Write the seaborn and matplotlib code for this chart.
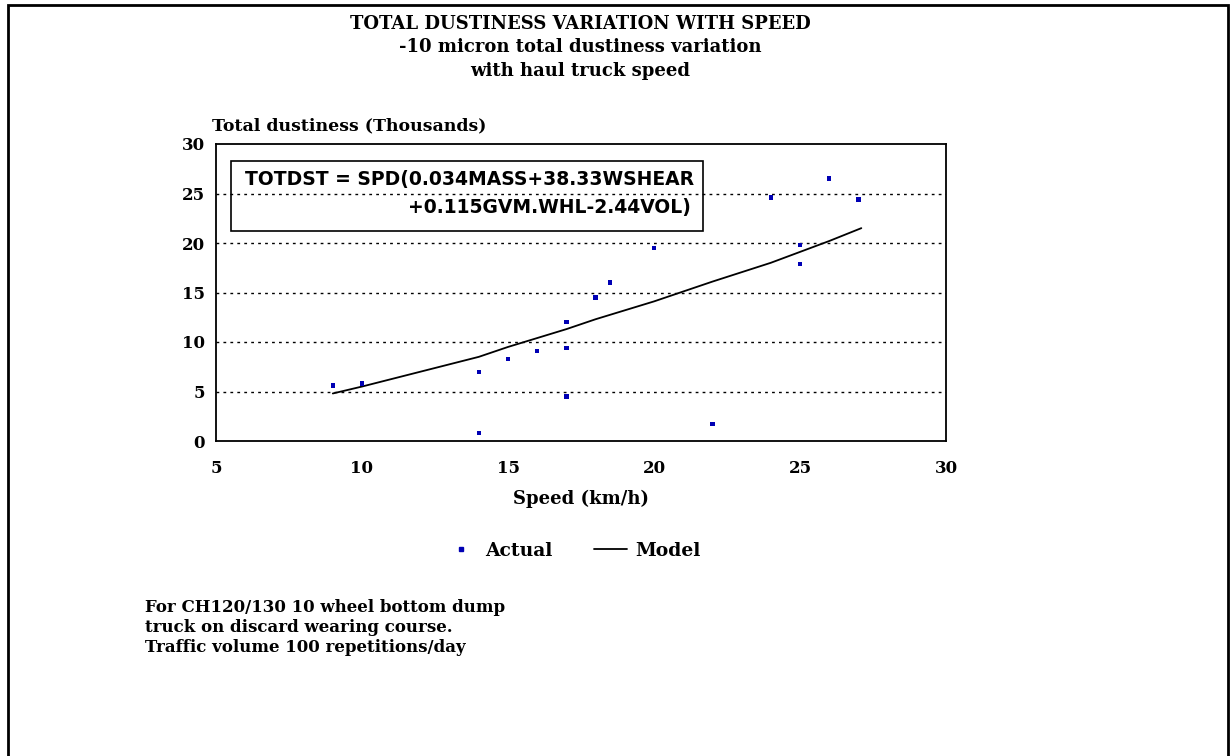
import numpy as np
import matplotlib.pyplot as plt
import matplotlib.patches as mpatches
import pandas as pd
import seaborn as sns

# measured points
speed = [9, 10, 14, 14, 15, 16, 17, 17, 17, 18, 18.5, 20, 22, 24, 25, 25, 26, 27]
dust = [5.6, 5.8, 7.0, 0.8, 8.3, 9.1, 12.0, 9.4, 4.5, 14.5, 16.0, 19.5, 1.7, 24.6, 19.8, 17.9, 26.5, 24.4]

# model curve
model_speed = [9, 10, 14, 15, 16, 17, 18, 20, 22, 24, 25, 26, 27.1]
model_dust = [4.8, 5.5, 8.5, 9.5, 10.4, 11.3, 12.3, 14.1, 16.1, 18.0, 19.1, 20.2, 21.5]

title_lines = ["TOTAL DUSTINESS VARIATION WITH SPEED",
               "-10 micron total dustiness variation",
               "with haul truck speed"]
note_lines = ["For CH120/130 10 wheel bottom dump",
              "truck on discard wearing course.",
              "Traffic volume 100 repetitions/day"]

sns.set_style("white")
plt.rcParams['font.family'] = ['DejaVu Serif']
plt.rcParams['text.color'] = 'black'
plt.rcParams['xtick.color'] = 'black'
plt.rcParams['ytick.color'] = 'black'
plt.rcParams['axes.labelcolor'] = 'black'

df_act = pd.DataFrame({'Speed': speed, 'Dust': dust})
df_mod = pd.DataFrame({'Speed': model_speed, 'Dust': model_dust})

fig = plt.figure(figsize=(12.32, 7.56), dpi=100)
ax = fig.add_axes([216/1232, 1-441/756, 730/1232, 297/756])

sns.scatterplot(data=df_act, x='Speed', y='Dust', ax=ax, marker='s', s=10,
                color='#0000b4', edgecolor='none', zorder=3)
sns.lineplot(data=df_mod, x='Speed', y='Dust', ax=ax, color='black', lw=1.3, zorder=2)

ax.set_xlim(5, 30)
ax.set_ylim(0, 30)
ax.set_xticks([5, 10, 15, 20, 25, 30])
ax.set_yticks([0, 5, 10, 15, 20, 25, 30])
for v in [5, 10, 15, 20, 25]:
    ax.axhline(v, color='black', lw=1, ls=(0, (2, 3)), zorder=1)
ax.tick_params(axis='x', direction='in', length=6, width=1.2, labelsize=12, pad=14)
ax.tick_params(axis='y', length=0, labelsize=12, pad=8)
for lab in ax.get_xticklabels() + ax.get_yticklabels():
    lab.set_fontweight('bold')
for sp in ax.spines.values():
    sp.set_linewidth(1.3)
    sp.set_color('black')
ax.set_xlabel('Speed (km/h)', fontsize=13, fontweight='bold', labelpad=9)
ax.set_ylabel('')
fig.text(212/1232, 1-126/756, 'Total dustiness (Thousands)', fontsize=12.5,
         fontweight='bold', ha='left', va='center')

# equation box
box = mpatches.Rectangle((231/1232, 1-231/756), 472/1232, 70/756, transform=fig.transFigure,
                         fill=False, edgecolor='black', lw=1.2)
fig.patches.append(box)
fig.text(245/1232, 1-180/756, 'TOTDST = SPD(0.034MASS+38.33WSHEAR', family='DejaVu Sans',
         fontsize=13.5, fontweight='bold', ha='left', va='center')
fig.text(691/1232, 1-207/756, '+0.115GVM.WHL-2.44VOL)', family='DejaVu Sans',
         fontsize=13.5, fontweight='bold', ha='right', va='center')

for i, t in enumerate(title_lines):
    fig.text(580/1232, 1-(24 + 23.5*i)/756, t, fontsize=13, fontweight='bold',
             ha='center', va='center')

# legend
handles = [plt.Line2D([], [], marker='s', ls='none', color='#0000b4', markersize=3.5),
           plt.Line2D([], [], color='black', lw=1.3)]
fig.legend(handles, ['Actual', 'Model'], loc='center', bbox_to_anchor=(572/1232, 1-551/756),
           ncol=2, frameon=False, prop={'size': 13.5, 'weight': 'bold'},
           handlelength=1.8, columnspacing=2.2, handletextpad=0.4)

for i, t in enumerate(note_lines):
    fig.text(145/1232, 1-(608 + 19.5*i)/756, t, fontsize=12, fontweight='bold',
             ha='left', va='center')

# outer frame
frame = mpatches.Rectangle((8/1232, -0.05), 1220/1232, 1 - 5/756 + 0.05, transform=fig.transFigure,
                           fill=False, edgecolor='black', lw=2)
fig.patches.append(frame)

fig.savefig('out.png', dpi=100)
